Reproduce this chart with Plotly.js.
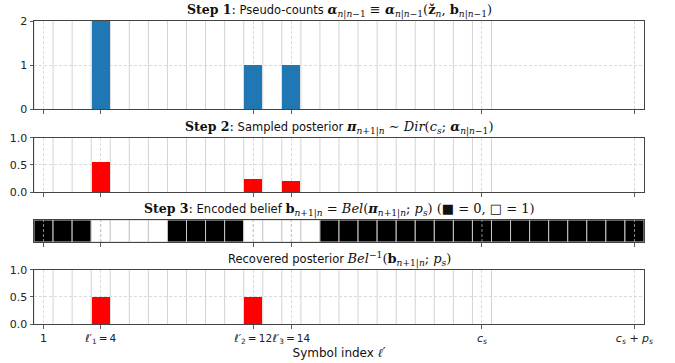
<!DOCTYPE html>
<html><head><meta charset="utf-8">
<script src="https://cdn.plot.ly/plotly-3.0.1.min.js"></script>
<style>body{margin:0;background:#fff}#chart{width:675px;height:363px}</style>
</head><body><div id="chart"></div><script>
// ---- data ----
const symbols = [4, 12, 14];
const pseudoCounts = [2, 1, 1];
const sampledPosterior = [0.555, 0.245, 0.20];
const recoveredPosterior = [0.5, 0.5, 0];
const cS = 24;
const pS = 8;
const encodedBits = [0,0,0,1,1,1,1,0,0,0,0,1,1,1,1,0,0,0,0,0,0,0,0,0,0,0,0,0,0,0,0,0];
const tickVals = [1, 4, 12, 14, cS, cS + pS];
const ell = (k, v) => `<span style="font-size:10.5px"><i>ℓ</i>′<sub>${k}</sub>\u2009=\u2009${v}</span>`;
const tickText = ['1', ell(1, 4), ell(2, 12), ell(3, 14),
  '<i>c</i><sub><i>s</i></sub>', '<i>c</i><sub><i>s</i></sub> + <i>p</i><sub><i>s</i></sub>'];

// ---- text helpers ----
const M = s => `<span style="font-family:DejaVu Serif;font-size:13px">${s}</span>`;
const S = s => `<span style="font-family:DejaVu Serif;font-size:12.5px"><b>${s}</b></span>`;
const sub = s => `<sub>${s}</sub>`;
const bi = s => `<b><i>${s}</i></b>`;
const nn1 = sub('<i>n</i>|<i>n</i>−1');
const n1n = sub('<i>n</i>+1|<i>n</i>');
const titles = [
  S('Step 1') + M(':') + ' Pseudo-counts ' + M(bi('α') + nn1 + ' ≡ ' + bi('α') + nn1 + '(<b>ž</b>' + sub('<i>n</i>') + ', <b>b</b>' + nn1 + ')'),
  S('Step 2') + M(':') + ' Sampled posterior ' + M(bi('π') + n1n + ' ∼ <i>Dir</i>(<i>c</i>' + sub('<i>s</i>') + '; ' + bi('α') + nn1 + ')'),
  S('Step 3') + M(':') + ' Encoded belief ' + M('<b>b</b>' + n1n + ' = <i>Bel</i>(' + bi('π') + n1n + '; <i>p</i>' + sub('<i>s</i>') + ') (■ = 0, □ = 1)'),
  'Recovered posterior ' + M('<i>Bel</i><sup>−1</sup>(<b>b</b>' + n1n + '; <i>p</i>' + sub('<i>s</i>') + ')')
];

const cells = encodedBits.map((_, i) => i + 1);

const traces = [
  {type:'bar', x:symbols, y:pseudoCounts, width:0.96, marker:{color:'#1f77b4'}, xaxis:'x', yaxis:'y', hoverinfo:'none'},
  {type:'bar', x:symbols, y:sampledPosterior, width:0.96, marker:{color:'#ff0000'}, xaxis:'x2', yaxis:'y2', hoverinfo:'none'},
  {type:'bar', x:cells, y:cells.map(() => 1), width:1, marker:{color:encodedBits.map(b => b ? '#ffffff' : '#000000'), line:{color:'#c8c8c8', width:1}}, xaxis:'x3', yaxis:'y3', hoverinfo:'none'},
  {type:'bar', x:symbols, y:recoveredPosterior, width:0.96, marker:{color:'#ff0000'}, xaxis:'x4', yaxis:'y4', hoverinfo:'none'}
];

const domains = [[0.7086, 1], [0.4356, 0.6149], [0.2706, 0.3432], [0, 0.1792]];
const DASH = '3px,2px';
const xBase = {range:[0.5, 32.5], tickvals:tickVals, ticktext:tickText, tickangle:0, ticks:'outside', ticklen:3.5, tickcolor:'#333', tickwidth:0.8,
  showgrid:true, gridcolor:'#d2d2d2', griddash:DASH, gridwidth:0.8, showline:true, mirror:true, linecolor:'#444', linewidth:1,
  zeroline:false, showticklabels:false, tickfont:{family:'DejaVu Sans', size:11, color:'#222'}};
const yBase = {ticks:'outside', ticklen:3.5, tickcolor:'#333', tickwidth:0.8, showgrid:true, gridcolor:'#d2d2d2', griddash:DASH,
  gridwidth:0.8, showline:true, mirror:true, linecolor:'#444', linewidth:1, zeroline:false, tickfont:{family:'DejaVu Sans', size:11, color:'#222'}};

const layout = {
  width:675, height:363, margin:{l:34, r:31, t:21, b:39}, paper_bgcolor:'#fff', plot_bgcolor:'#fff', showlegend:false, bargap:0,
  font:{family:'DejaVu Sans', size:11, color:'#111'},
  xaxis:Object.assign({}, xBase, {anchor:'y'}),
  xaxis2:Object.assign({}, xBase, {anchor:'y2', matches:'x'}),
  xaxis3:Object.assign({}, xBase, {anchor:'y3', matches:'x'}),
  xaxis4:Object.assign({}, xBase, {anchor:'y4', matches:'x', showticklabels:true,
    title:{text:'Symbol index <span style="font-family:DejaVu Serif;font-size:12px"><i>ℓ</i>′</span>', font:{family:'DejaVu Sans', size:12, color:'#111'}, standoff:3}}),
  yaxis:Object.assign({}, yBase, {domain:domains[0], range:[0, 2], tickvals:[0, 1, 2], ticktext:['0', '1', '2']}),
  yaxis2:Object.assign({}, yBase, {domain:domains[1], range:[0, 1], tickvals:[0, 0.5, 1], ticktext:['0.0', '0.5', '1.0']}),
  yaxis3:Object.assign({}, yBase, {domain:domains[2], range:[0, 1], showticklabels:false, ticks:'', showgrid:false}),
  yaxis4:Object.assign({}, yBase, {domain:domains[3], range:[0, 1], tickvals:[0, 0.5, 1], ticktext:['0.0', '0.5', '1.0']}),
  annotations:titles.map((t, i) => ({text:t, xref:'paper', x:0.5, xanchor:'center', yref:(i ? 'y' + (i + 1) : 'y') + ' domain', y:1,
    yanchor:'bottom', yshift:-1, showarrow:false, font:{family:'DejaVu Sans', size:11.5, color:'#111'}})),
  shapes:[]
};
// cell boundaries for the c_s symbols
['', '2', '4'].forEach(ax => {
  for (let k = 0; k <= cS; k++) {
    layout.shapes.push({type:'line', xref:'x' + ax, yref:'y' + ax + ' domain', x0:k + 0.5, x1:k + 0.5, y0:0, y1:1,
      line:{color:'#d3d3d3', width:1}, layer:'below'});
  }
});
// dashed tick lines drawn over the encoded cells
tickVals.forEach(v => layout.shapes.push({type:'line', xref:'x3', yref:'y3 domain', x0:v, x1:v, y0:0, y1:1,
  line:{color:'#a8a8a8', width:0.8, dash:DASH}, layer:'above'}));

Plotly.newPlot('chart', traces, layout, {staticPlot:true, displayModeBar:false});
</script></body></html>
